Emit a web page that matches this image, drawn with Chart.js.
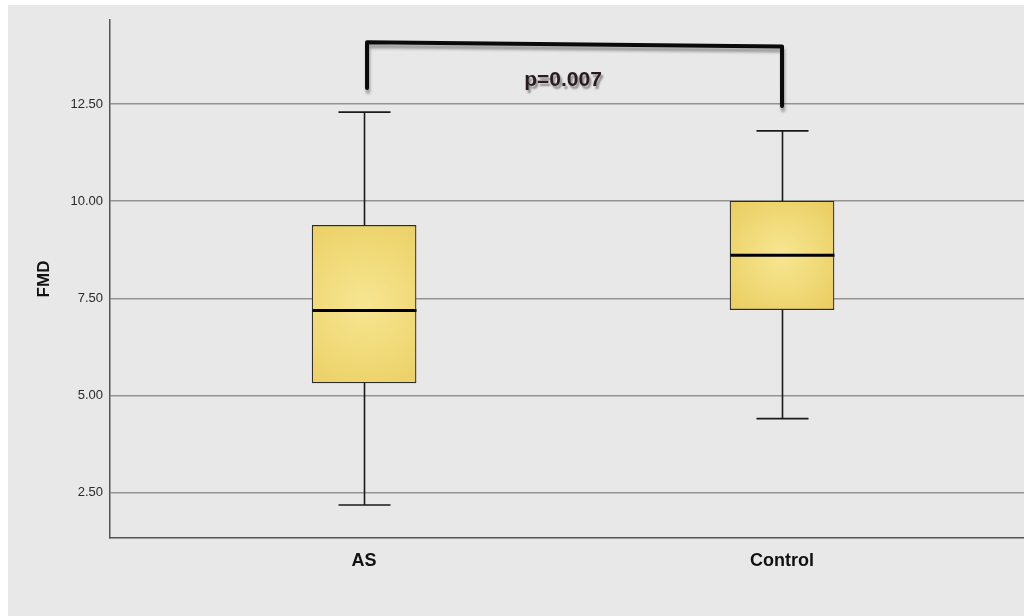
<!DOCTYPE html>
<html>
<head>
<meta charset="utf-8">
<script src="https://cdn.jsdelivr.net/npm/chart.js@4/dist/chart.umd.min.js"></script>
<style>
  html, body { margin: 0; padding: 0; background: #ffffff; }
  #panel { position: absolute; left: 8px; top: 5px; width: 1016px; height: 611px; background: #e8e8e8; }
  #wrap { position: absolute; left: 0; top: 0; width: 1024px; height: 616px; }
</style>
</head>
<body>
<div id="panel"></div>
<div id="wrap"><canvas id="chart" width="1024" height="616"></canvas></div>
<script>
// groups and box plot stats
var groups = ['AS', 'Control'];
var groupPos = [1, 2];
var whiskerLow = [2.19, 4.41];
var q1 = [5.33, 7.21];
var median = [7.19, 8.61];
var q3 = [9.38, 10.0];
var whiskerHigh = [12.29, 11.81];
var yTicks = [2.5, 5.0, 7.5, 10.0, 12.5];

// significance bracket: left bottom, left top, right top, right bottom
var bracketY = [12.91, 14.09, 13.98, 12.45];
var bracketX = [1.007, 2.0];
var pLabel = 'p=0.007';
var pLabelX = 1.476;
var pLabelY = 13.11;

var boxData = groupPos.map(function (x, i) {
    return { x: x, y: [q1[i], q3[i]] };
});

function boxFill(context) {
    var chart = context.chart;
    var area = chart.chartArea;
    if (!area) return '#efd872';
    var i = context.dataIndex;
    var xs = chart.scales.x, ys = chart.scales.y;
    var cx = xs.getPixelForValue(groupPos[i]);
    var cy = (ys.getPixelForValue(q1[i]) + ys.getPixelForValue(q3[i])) / 2;
    var h = Math.abs(ys.getPixelForValue(q1[i]) - ys.getPixelForValue(q3[i]));
    var g = chart.ctx.createRadialGradient(cx, cy, 5, cx, cy, Math.max(70, h * 0.7));
    g.addColorStop(0, '#f6e58f');
    g.addColorStop(1, '#e9cc5e');
    return g;
}

var boxExtras = {
    id: 'boxExtras',
    afterDatasetsDraw: function (chart) {
        var ctx = chart.ctx;
        var xs = chart.scales.x, ys = chart.scales.y;
        var capHalf = 26;
        var boxHalf = 52;
        ctx.save();
        groupPos.forEach(function (p, i) {
            var cx = Math.round(xs.getPixelForValue(p)) + 0.5;
            var yLo = ys.getPixelForValue(whiskerLow[i]);
            var yQ1 = ys.getPixelForValue(q1[i]);
            var yQ3 = ys.getPixelForValue(q3[i]);
            var yHi = ys.getPixelForValue(whiskerHigh[i]);
            var yMed = ys.getPixelForValue(median[i]);
            ctx.strokeStyle = '#1a1a1a';
            ctx.lineWidth = 1.6;
            ctx.beginPath();
            ctx.moveTo(cx, yLo); ctx.lineTo(cx, yQ1);
            ctx.moveTo(cx, yQ3); ctx.lineTo(cx, yHi);
            ctx.moveTo(cx - capHalf, yLo); ctx.lineTo(cx + capHalf, yLo);
            ctx.moveTo(cx - capHalf, yHi); ctx.lineTo(cx + capHalf, yHi);
            ctx.stroke();
            ctx.strokeStyle = '#000000';
            ctx.lineWidth = 3;
            ctx.beginPath();
            ctx.moveTo(cx - boxHalf, yMed); ctx.lineTo(cx + boxHalf, yMed);
            ctx.stroke();
        });

        // bracket with shadow
        var lx = xs.getPixelForValue(bracketX[0]);
        var rx = xs.getPixelForValue(bracketX[1]);
        var pts = [
            [lx, ys.getPixelForValue(bracketY[0])],
            [lx, ys.getPixelForValue(bracketY[1])],
            [rx, ys.getPixelForValue(bracketY[2])],
            [rx, ys.getPixelForValue(bracketY[3])]
        ];
        ctx.lineCap = 'round';
        ctx.lineJoin = 'round';
        ctx.shadowColor = 'rgba(0,0,0,0.35)';
        ctx.shadowOffsetX = 1;
        ctx.shadowOffsetY = 4;
        ctx.shadowBlur = 3;
        ctx.strokeStyle = '#0a0a0a';
        ctx.lineWidth = 4;
        ctx.beginPath();
        ctx.moveTo(pts[0][0], pts[0][1]);
        for (var k = 1; k < pts.length; k++) ctx.lineTo(pts[k][0], pts[k][1]);
        ctx.stroke();

        ctx.shadowOffsetX = 2;
        ctx.shadowOffsetY = 3;
        ctx.shadowBlur = 2;
        ctx.shadowColor = 'rgba(0,0,0,0.4)';
        ctx.fillStyle = '#2a1a22';
        ctx.font = 'bold 21px "Liberation Sans", Arial, sans-serif';
        ctx.textAlign = 'center';
        ctx.textBaseline = 'middle';
        ctx.fillText(pLabel, xs.getPixelForValue(pLabelX), ys.getPixelForValue(pLabelY));
        ctx.restore();
    }
};

new Chart(document.getElementById('chart'), {
    type: 'bar',
    data: {
        datasets: [{
            data: boxData,
            backgroundColor: boxFill,
            borderColor: '#2b2b2b',
            borderWidth: 1.2,
            borderSkipped: false,
            barThickness: 104
        }]
    },
    options: {
        responsive: false,
        animation: false,
        events: [],
        layout: { padding: { top: 20, right: 0, left: 0, bottom: 0 } },
        plugins: { legend: { display: false }, tooltip: { enabled: false } },
        scales: {
            x: {
                type: 'linear',
                offset: false,
                min: 0.392,
                max: 2.579,
                afterBuildTicks: function (s) {
                    s.ticks = groupPos.map(function (v) { return { value: v }; });
                },
                afterFit: function (s) { s.height = 78; },
                grid: { display: false, drawTicks: false },
                border: { display: true, color: '#555555', width: 1.5 },
                ticks: {
                    padding: 12,
                    color: '#111111',
                    font: { family: '"Liberation Sans", Arial, sans-serif', size: 18, weight: 'bold' },
                    callback: function (v) {
                        var i = groupPos.indexOf(v);
                        return i >= 0 ? groups[i] : '';
                    }
                }
            },
            y: {
                min: 1.34,
                max: 14.66,
                afterBuildTicks: function (s) {
                    s.ticks = yTicks.map(function (v) { return { value: v }; });
                },
                afterFit: function (s) { s.width = 110; },
                grid: { color: '#939393', lineWidth: 1.6, drawTicks: false },
                border: { display: true, color: '#555555', width: 1.5 },
                ticks: {
                    padding: 7,
                    color: '#2a2a2a',
                    font: { family: '"Liberation Sans", Arial, sans-serif', size: 13 },
                    callback: function (v) { return v.toFixed(2); }
                },
                title: {
                    display: true,
                    text: 'FMD',
                    color: '#111111',
                    padding: { top: 34, bottom: 0 },
                    font: { family: '"Liberation Sans", Arial, sans-serif', size: 17, weight: 'bold' }
                }
            }
        }
    },
    plugins: [boxExtras]
});
</script>
</body>
</html>
